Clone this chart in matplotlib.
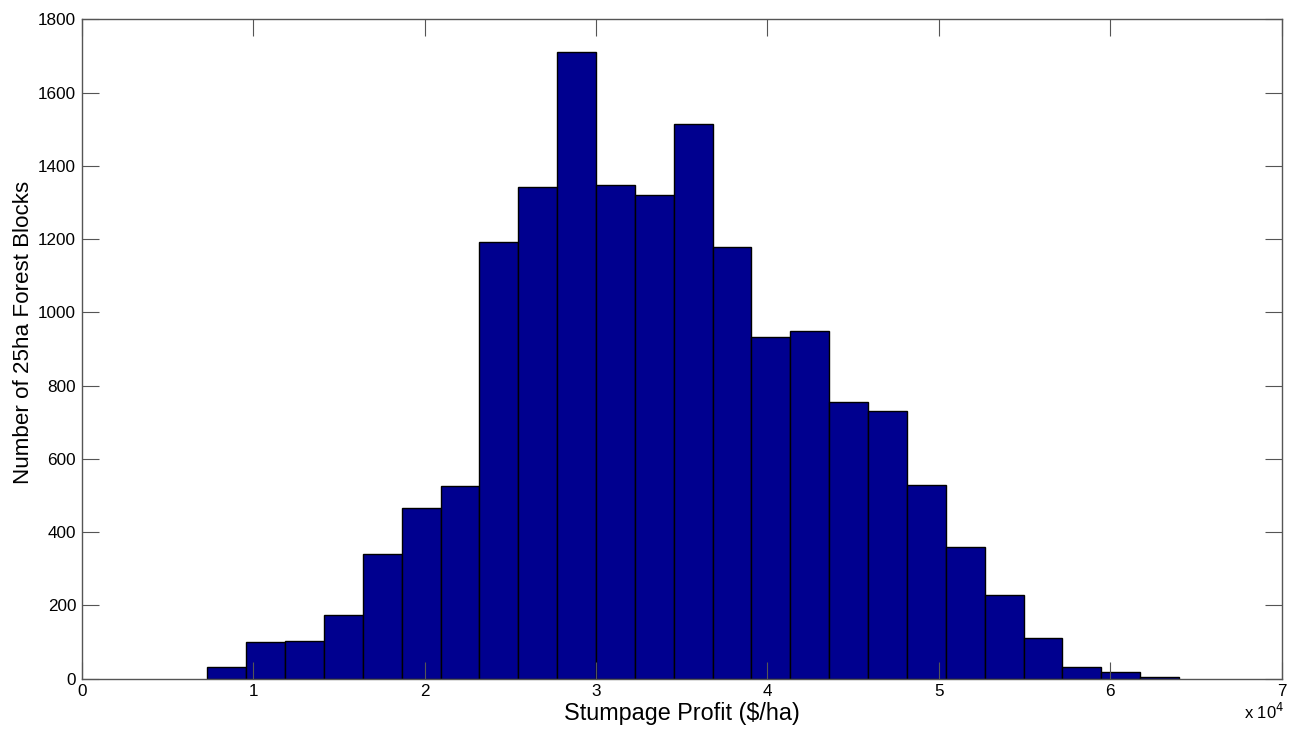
import numpy as np
import matplotlib
matplotlib.use("Agg")
import matplotlib.pyplot as plt
from matplotlib.ticker import FuncFormatter

plt.rcParams['font.family'] = ['Liberation Sans', 'DejaVu Sans']

# Histogram of stumpage profit per block ($/ha)
bin_start = 7330.0
bin_width = 2267.0
counts = [31, 101, 104, 174, 341, 467, 525, 1193, 1343, 1712, 1349, 1320, 1513,
          1178, 934, 948, 756, 731, 528, 359, 228, 110, 31, 17, 5]
x_ticks = [0, 10000, 20000, 30000, 40000, 50000, 60000, 70000]
y_ticks = [0, 200, 400, 600, 800, 1000, 1200, 1400, 1600, 1800]

edges = bin_start + bin_width * np.arange(len(counts) + 1)

fig = plt.figure(figsize=(13.03, 7.29), dpi=100)
ax = fig.add_axes([0.0627, 0.069, 0.921, 0.9045])

ax.bar(edges[:-1], counts, width=bin_width, align='edge',
       color=(0, 0, 0.5625), edgecolor='black', linewidth=1.0)

ax.set_xlim(0, 70000)
ax.set_ylim(0, 1800)
ax.set_xticks(x_ticks)
ax.set_yticks(y_ticks)
ax.xaxis.set_major_formatter(FuncFormatter(lambda v, p: f"{v/1e4:g}"))

spine_col = '#555555'
for s in ax.spines.values():
    s.set_color(spine_col)
    s.set_linewidth(1.0)
ax.tick_params(direction='in', length=12, width=0.8, color=spine_col,
               top=True, right=True, labelsize=12.3, pad=4)

ax.set_xlabel('Stumpage Profit ($/ha)', fontsize=16.8, labelpad=2)
ax.set_ylabel('Number of 25ha Forest Blocks', fontsize=16.1)
ax.yaxis.set_label_coords(-0.04, 0.525)

fig.text(0.9855, 0.01, r'x 10$^{4}$', ha='right', va='bottom', fontsize=12)

fig.savefig('out.png', dpi=100, facecolor='white')
